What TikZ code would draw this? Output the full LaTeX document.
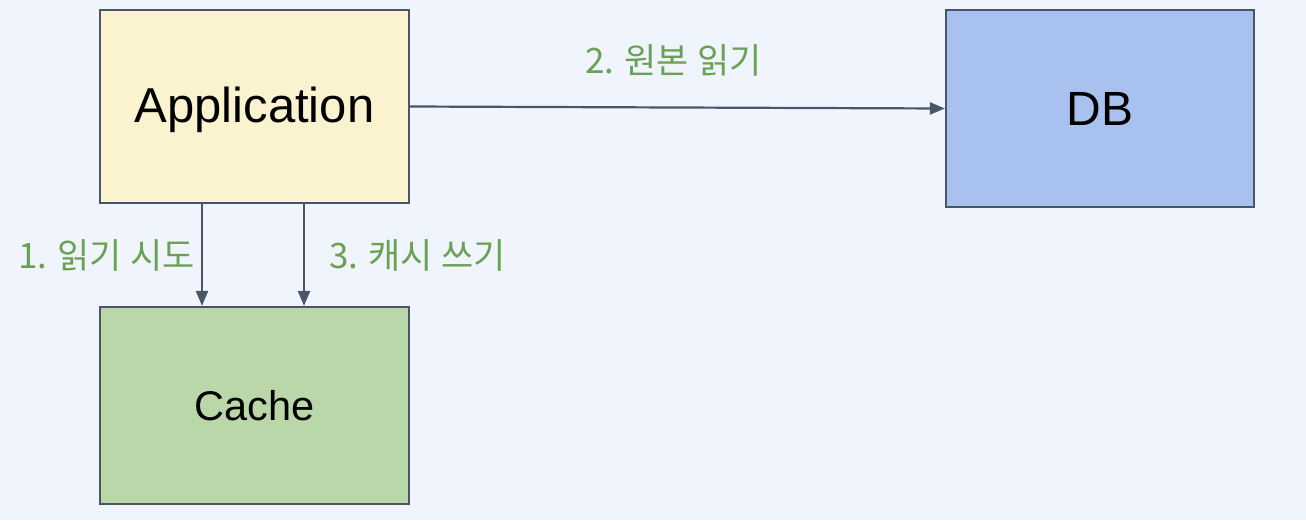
\documentclass[tikz,border=0pt]{standalone}
\usepackage{fontspec}
\setmainfont{Liberation Sans}
\newfontfamily\kr{Noto Sans CJK KR}
\usetikzlibrary{arrows.meta}
\definecolor{bg}{HTML}{F0F4FD}
\definecolor{edge}{HTML}{4A5568}
\definecolor{appfill}{HTML}{FBF2D0}
\definecolor{cachefill}{HTML}{B9D7A8}
\definecolor{dbfill}{HTML}{A9C1EE}
\definecolor{lbl}{HTML}{6AA152}
\begin{document}
\begin{tikzpicture}[x=1pt,y=-1pt,
  box/.style={draw=edge,line width=2.2pt,inner sep=0pt},
  conn/.style={draw=edge,line width=2.2pt,-{Triangle[length=15pt,width=12pt]}},
  lab/.style={text=lbl,font=\kr\fontsize{35}{40}\selectfont,inner sep=0pt,anchor=west}]
\fill[bg] (0,0) rectangle (1306,520);
\useasboundingbox (0,0) rectangle (1306,520);
\node[box,fill=appfill,minimum width=309pt,minimum height=193pt] (app) at (254.5,106.5) {};
\node[font=\fontsize{49}{56}\selectfont,inner sep=0pt] (apptext) at (254.5,110) {Application};
\node[box,fill=cachefill,minimum width=309pt,minimum height=197pt,font=\fontsize{41.5}{48}\selectfont] (cache) at (254.5,405.5) {Cache};
\node[box,fill=dbfill,minimum width=308pt,minimum height=197pt,font=\fontsize{48}{56}\selectfont] (db) at (1100,108.5) {DB};
\draw[conn] (app.south -| 202,0) -- (cache.north -| 202,0);
\draw[conn] (app.south -| 304,0) -- (cache.north -| 304,0);
\draw[conn] (app.east) -- (db.west);
\node[lab] (l1) at (18,255) {1. 읽기 시도};
\node[lab] (l3) at (329,255) {3. 캐시 쓰기};
\node[lab] (l2) at (585,60) {2. 원본 읽기};
\end{tikzpicture}
\end{document}
